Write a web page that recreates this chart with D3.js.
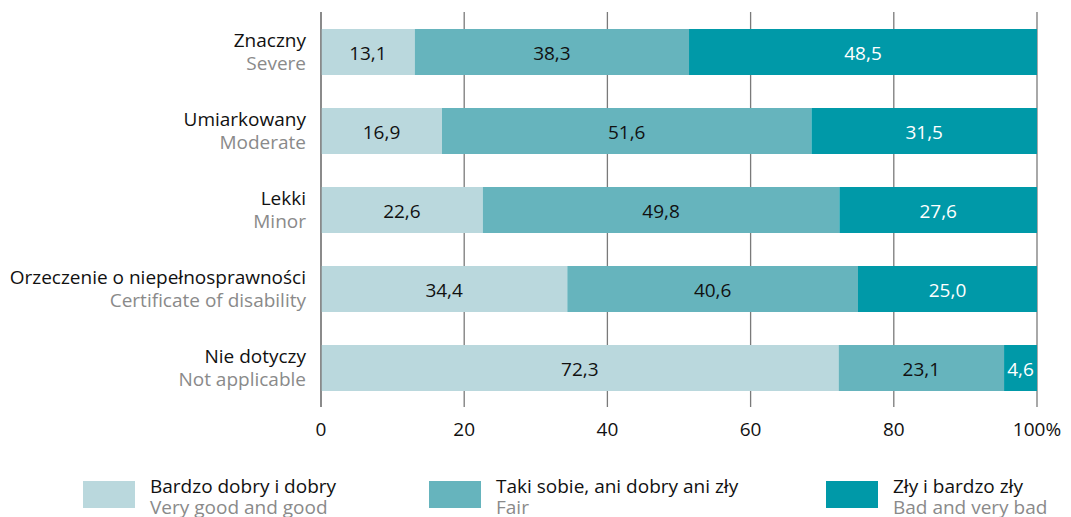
<!DOCTYPE html>
<html>
<head>
<meta charset="utf-8">
<script src="https://cdn.jsdelivr.net/npm/d3@7"></script>
<style>
    html, body { margin: 0; padding: 0; background: #fff; }
    svg text { font-family: "Open Sans", "Noto Sans", sans-serif; }
</style>
</head>
<body>
<svg id="chart" width="1071" height="517"></svg>
<script>
"use strict";

var categoriesPl = ['Znaczny', 'Umiarkowany', 'Lekki', 'Orzeczenie o niepełnosprawności', 'Nie dotyczy'];
var categoriesEn = ['Severe', 'Moderate', 'Minor', 'Certificate of disability', 'Not applicable'];
var goodValues = [13.1, 16.9, 22.6, 34.4, 72.3];
var fairValues = [38.3, 51.6, 49.8, 40.6, 23.1];
var badValues = [48.5, 31.5, 27.6, 25.0, 4.6];
var seriesPl = ['Bardzo dobry i dobry', 'Taki sobie, ani dobry ani zły', 'Zły i bardzo zły'];
var seriesEn = ['Very good and good', 'Fair', 'Bad and very bad'];
var tickValues = [0, 20, 40, 60, 80, 100];

var colors = ['#bad8dd', '#66b4bd', '#0099a8'];
var textColors = ['#111', '#111', '#fff'];
var fontSize = 19;

var svg = d3.select('#chart');
var plotLeft = 321, plotRight = 1037;
var plotTop = 12, plotBottom = 407;

var x = d3.scaleLinear().domain([0, 100]).range([plotLeft, plotRight]);
// 5 bars of 46px, 79px apart
var y = d3.scaleBand().domain(categoriesPl).range([29, 29 + 79 * 4 + 46]).paddingInner(33 / 79);

// grid lines
var gridG = svg.append('g');
gridG.selectAll('line').data(tickValues).enter().append('line')
    .attr('x1', function (d) { return x(d); })
    .attr('x2', function (d) { return x(d); })
    .attr('y1', plotTop).attr('y2', plotBottom)
    .attr('stroke', '#7a7a7a').attr('stroke-width', 1.3);

// tick labels
svg.append('g').selectAll('text').data(tickValues).enter().append('text')
    .attr('x', function (d) { return x(d); })
    .attr('y', 436)
    .attr('text-anchor', 'middle')
    .attr('font-size', fontSize)
    .attr('fill', '#111')
    .text(function (d) { return d === 100 ? '100%' : d; });

// stacked rows
var rows = categoriesPl.map(function (c, i) {
    return { cat: c, values: [goodValues[i], fairValues[i], badValues[i]] };
});

var fmt = function (v) { return v.toFixed(1).replace('.', ','); };

rows.forEach(function (r) {
    var g = svg.append('g');
    var acc = 0;
    r.values.forEach(function (v, j) {
        var x0 = acc;
        acc += v;
        var x1 = j === 2 ? 100 : acc;
        g.append('rect')
            .attr('x', x(x0))
            .attr('y', y(r.cat))
            .attr('width', x(x1) - x(x0))
            .attr('height', y.bandwidth())
            .attr('fill', colors[j]);
        g.append('text')
            .attr('x', (x(x0) + x(x1)) / 2)
            .attr('y', y(r.cat) + y.bandwidth() / 2 + 7.5)
            .attr('text-anchor', 'middle')
            .attr('font-size', fontSize)
            .attr('fill', textColors[j])
            .text(fmt(v));
    });
});

// axis line at zero drawn over bars
svg.append('line')
    .attr('x1', x(0)).attr('x2', x(0))
    .attr('y1', plotTop).attr('y2', plotBottom)
    .attr('stroke', '#7a7a7a').attr('stroke-width', 1.3);

// category labels
var catG = svg.append('g');
categoriesPl.forEach(function (c, i) {
    var cy = y(c) + y.bandwidth() / 2;
    catG.append('text')
        .attr('x', 306).attr('y', cy - 5.5)
        .attr('text-anchor', 'end')
        .attr('font-size', fontSize)
        .attr('fill', '#111')
        .text(c);
    catG.append('text')
        .attr('x', 306).attr('y', cy + 18)
        .attr('text-anchor', 'end')
        .attr('font-size', fontSize)
        .attr('fill', '#8a8a8a')
        .text(categoriesEn[i]);
});

// legend
var legendX = [83, 429, 826];
var legendG = svg.append('g');
seriesPl.forEach(function (s, i) {
    legendG.append('rect')
        .attr('x', legendX[i]).attr('y', 481)
        .attr('width', 52).attr('height', 27)
        .attr('fill', colors[i]);
    legendG.append('text')
        .attr('x', legendX[i] + 67).attr('y', 493)
        .attr('font-size', fontSize)
        .attr('fill', '#111')
        .text(s);
    legendG.append('text')
        .attr('x', legendX[i] + 67).attr('y', 514)
        .attr('font-size', fontSize)
        .attr('fill', '#8a8a8a')
        .text(seriesEn[i]);
});
</script>
</body>
</html>
